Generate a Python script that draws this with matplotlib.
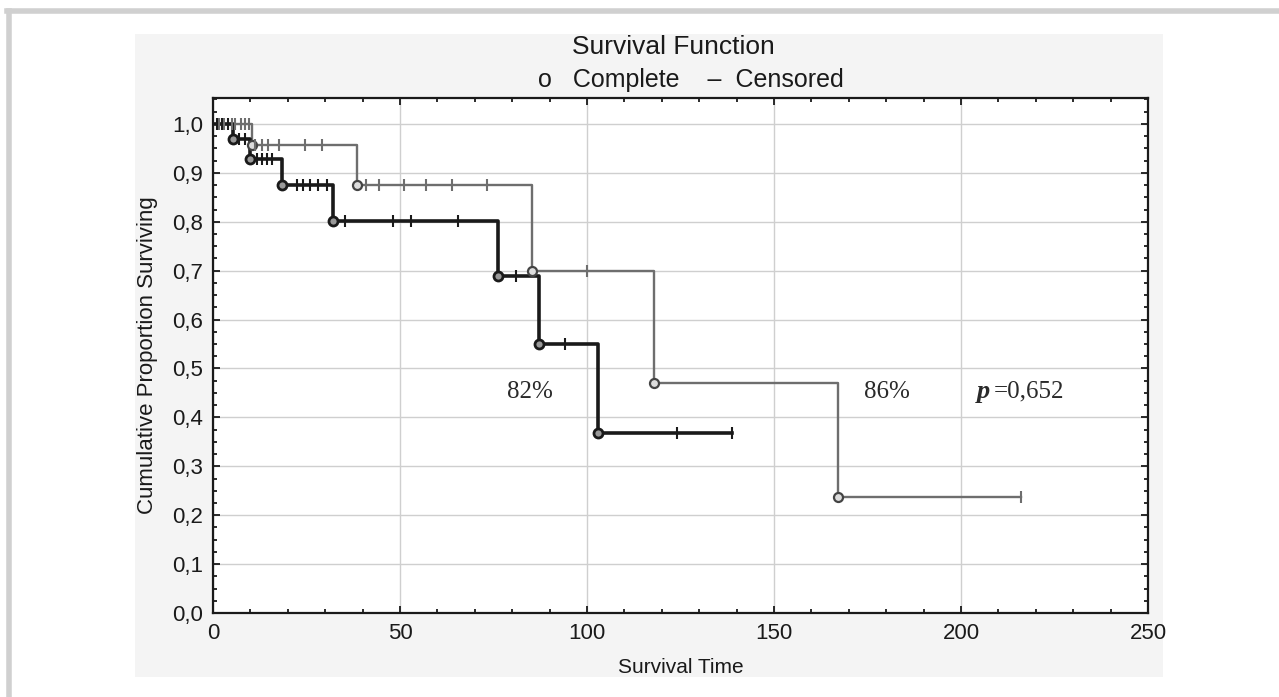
import matplotlib
matplotlib.use("Agg")
import matplotlib.pyplot as plt
import numpy as np
from matplotlib.patches import Rectangle
from matplotlib.lines import Line2D
from matplotlib.ticker import MultipleLocator, FuncFormatter

# group 1 (black, thick) - step curve
black_t = [0, 5.3, 10, 18.4, 32, 76.3, 87.2, 103, 138.8]
black_s = [1.0, 0.969, 0.928, 0.875, 0.802, 0.689, 0.55, 0.368, 0.368]
black_events = [5.3, 10, 18.4, 32, 76.3, 87.2, 103]
black_censored = [1, 2.5, 4, 7, 8.5, 11.7, 13, 14.5, 15.8, 22.4, 24, 26, 28, 30.5,
                  35.3, 48, 53, 65.5, 81, 94, 124, 138.8]

# group 2 (gray, thin)
gray_t = [0, 10.5, 38.5, 85.3, 118, 167, 216]
gray_s = [1.0, 0.957, 0.875, 0.70, 0.47, 0.237, 0.237]
gray_events = [10.5, 38.5, 85.3, 118, 167]
gray_censored = [1.5, 3, 5, 6, 7.5, 8.5, 9.5, 11.2, 13, 14.8, 17.6, 24.6, 29.1,
                 41, 44.5, 51, 57, 64, 73.3, 100, 216]

labels = ["82%", "86%"]
p_value = "=0,652"

W, H = 1279, 697
SANS = ["Liberation Sans Narrow", "Liberation Sans", "DejaVu Sans"]
SERIF = ["Liberation Serif", "DejaVu Serif"]
INK = "#1a1a1a"


def level_at(t, s, x):
    idx = np.searchsorted(t, x, side="right") - 1
    return np.asarray(s)[np.clip(idx, 0, len(s) - 1)]


def main() -> None:
    fig = plt.figure(figsize=(W / 100, H / 100), dpi=100)
    fig.patch.set_facecolor("white")

    # outer page frame and grey panel
    fig.add_artist(Line2D([7 / W, 1.0], [1 - 11 / H, 1 - 11 / H], color="#d0d0d0", lw=4))
    fig.add_artist(Line2D([9 / W, 9 / W], [0, 1 - 11 / H], color="#d0d0d0", lw=4))
    fig.add_artist(Rectangle((135 / W, 1 - 677 / H), (1163 - 135) / W, (677 - 34) / H,
                             transform=fig.transFigure, facecolor="#f4f4f4", edgecolor="none", zorder=0))

    ax = fig.add_axes([213 / W, 1 - 613 / H, (1148 - 213) / W, (613 - 98) / H])
    ax.set_facecolor("white")
    ax.set_xlim(0, 250)
    ax.set_ylim(0, 1.053)

    ax.xaxis.set_major_locator(MultipleLocator(50))
    ax.xaxis.set_minor_locator(MultipleLocator(10))
    ax.yaxis.set_major_locator(MultipleLocator(0.1))
    ax.yaxis.set_minor_locator(MultipleLocator(0.025))
    ax.yaxis.set_major_formatter(FuncFormatter(lambda v, _: f"{v:.1f}".replace(".", ",")))
    ax.tick_params(which="both", direction="in", top=True, right=True, width=1.3, colors=INK)
    ax.tick_params(which="major", length=5, labelsize=16, pad=7)
    ax.tick_params(which="minor", length=3)
    for lab in ax.get_xticklabels() + ax.get_yticklabels():
        lab.set_family(SANS)
    ax.grid(True, which="major", color="#cfcfcf", lw=1)
    for sp in ax.spines.values():
        sp.set_linewidth(1.6)
        sp.set_color(INK)

    ax.step(gray_t, gray_s, where="post", color="#6e6e6e", lw=1.7, zorder=3)
    ax.step(black_t, black_s, where="post", color=INK, lw=2.6, zorder=4)

    ax.plot(gray_events, level_at(gray_t, gray_s, gray_events), "o", ms=6.5, mfc="#dddddd",
            mec="#444444", mew=1.6, zorder=5)
    ax.plot(black_events, level_at(black_t, black_s, black_events), "o", ms=6.5, mfc="#999999",
            mec=INK, mew=2, zorder=6)
    ax.plot(gray_censored, level_at(gray_t, gray_s, gray_censored), "|", ms=9,
            color="#6e6e6e", mew=1.5, zorder=5)
    ax.plot(black_censored, level_at(black_t, black_s, black_censored), "|", ms=9,
            color=INK, mew=1.5, zorder=6)

    ax.text(84.8, 0.452, labels[0], ha="center", va="center", fontsize=18, family=SERIF, color="#2a2a2a")
    ax.text(180.2, 0.452, labels[1], ha="center", va="center", fontsize=18, family=SERIF, color="#2a2a2a")
    ax.text(204.3, 0.452, "p", ha="left", va="center", fontsize=19, family=SERIF,
            style="italic", weight="bold", color="#2a2a2a")
    ax.text(208.8, 0.452, p_value, ha="left", va="center", fontsize=18, family=SERIF, color="#2a2a2a")

    ax.set_ylabel("Cumulative Proportion Surviving", fontsize=16, family=SANS, labelpad=10, color=INK)
    ax.set_xlabel("Survival Time", fontsize=15, family=SANS, labelpad=10, color=INK)

    fig.text(673 / W, 1 - 47 / H, "Survival Function", ha="center", va="center", fontsize=19,
             family=SANS, color=INK)
    fig.text(691 / W, 1 - 80 / H, "o   Complete    \u2013  Censored", ha="center", va="center",
             fontsize=18, family=SANS, color=INK)

    fig.savefig("out.png", dpi=100)
    plt.close(fig)


if __name__ == "__main__":
    main()
